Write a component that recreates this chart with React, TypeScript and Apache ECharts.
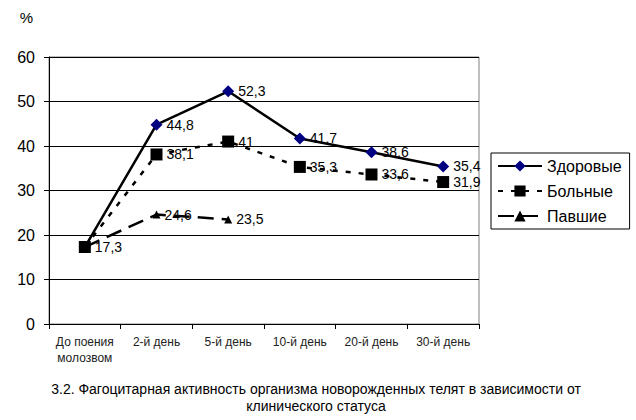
import React, { useEffect, useRef } from "react";
import * as echarts from "echarts";

const categories = ["До поения\nмолозвом", "2-й день", "5-й день", "10-й день", "20-й день", "30-й день"];
const healthy = [17.3, 44.8, 52.3, 41.7, 38.6, 35.4];
const sick = [17.3, 38.1, 41, 35.3, 33.6, 31.9];
const dead = [17.3, 24.6, 23.5, null, null, null];
const seriesNames = ["Здоровые", "Больные", "Павшие"];
const yTicks = [0, 10, 20, 30, 40, 50, 60];
const titleText = "3.2. Фагоцитарная активность организма новорожденных телят в зависимости от\nклинического статуса";

const FONT = "Liberation Sans, Arial, sans-serif";

export default function App() {
  const ref = useRef<HTMLDivElement>(null);
  useEffect(() => {
    const chart = echarts.init(ref.current!, null, { renderer: "svg" });
    const makeLabel = (skipFirst: boolean) => ({
      show: true,
      position: "right" as const,
      distance: 4,
      color: "#000",
      fontFamily: FONT,
      fontSize: 14,
      formatter: (p: any) =>
        skipFirst && p.dataIndex === 0 ? "" : String(p.value).replace(".", ","),
    });
    chart.setOption({
      animation: false,
      backgroundColor: "#fff",
      grid: {
        left: 49,
        right: 157,
        top: 57,
        bottom: 96,
        show: true,
        borderColor: "#808080",
        borderWidth: 1,
      },
      legend: {
        orient: "vertical",
        left: 491,
        top: 153,
        itemWidth: 44,
        itemHeight: 14,
        itemGap: 9,
        padding: [5, 8, 5, 6],
        borderColor: "#000",
        borderWidth: 1,
        backgroundColor: "#fff",
        textStyle: { fontFamily: FONT, fontSize: 16, color: "#000" },
        data: seriesNames,
      },
      xAxis: {
        type: "category",
        data: categories,
        axisLine: { lineStyle: { color: "#000", width: 1 } },
        axisTick: { show: true, alignWithLabel: false, length: 5, lineStyle: { color: "#000" } },
        axisLabel: {
          fontFamily: FONT,
          fontSize: 12,
          color: "#222",
          lineHeight: 16,
          margin: 10,
          interval: 0,
        },
      },
      yAxis: {
        type: "value",
        min: 0,
        max: 60,
        interval: 10,
        name: "%",
        nameLocation: "end",
        nameGap: 32,
        nameTextStyle: { fontFamily: FONT, fontSize: 15, color: "#000", align: "right", padding: [0, 16, 0, 0] },
        axisLine: { show: true, lineStyle: { color: "#000", width: 1 } },
        axisTick: { show: true, length: 5, lineStyle: { color: "#000" } },
        splitLine: { show: true, lineStyle: { color: "#000", width: 1 } },
        axisLabel: {
          fontFamily: FONT,
          fontSize: 16,
          color: "#000",
          margin: 14,
          formatter: (v: number) => (yTicks.includes(v) ? String(v) : ""),
        },
      },
      series: [
        {
          name: seriesNames[0],
          type: "line",
          data: healthy,
          symbol: "diamond",
          symbolSize: 12,
          itemStyle: { color: "#000080" },
          lineStyle: { color: "#000", width: 2.5 },
          label: makeLabel(false),
          z: 2,
        },
        {
          name: seriesNames[1],
          type: "line",
          data: sick,
          symbol: "rect",
          symbolSize: 12,
          itemStyle: { color: "#000" },
          lineStyle: { color: "#000", width: 2.5, type: [5, 8] },
          label: makeLabel(true),
          z: 3,
        },
        {
          name: seriesNames[2],
          type: "line",
          data: dead,
          symbol: "triangle",
          symbolSize: 8,
          itemStyle: { color: "#000" },
          lineStyle: { color: "#000", width: 2.5, type: [16, 8] },
          label: makeLabel(true),
          connectNulls: false,
          z: 4,
        },
      ],
      graphic: [
        {
          type: "text",
          x: 316,
          y: 380,
          style: {
            text: titleText,
            fontFamily: FONT,
            fontSize: 14,
            fill: "#000",
            align: "center",
            verticalAlign: "top",
            lineHeight: 17,
          },
        },
      ],
    });
    return () => chart.dispose();
  }, []);
  return (
    <div
      ref={ref}
      style={{ position: "fixed", left: 0, top: 0, width: 636, height: 420 }}
    />
  );
}
